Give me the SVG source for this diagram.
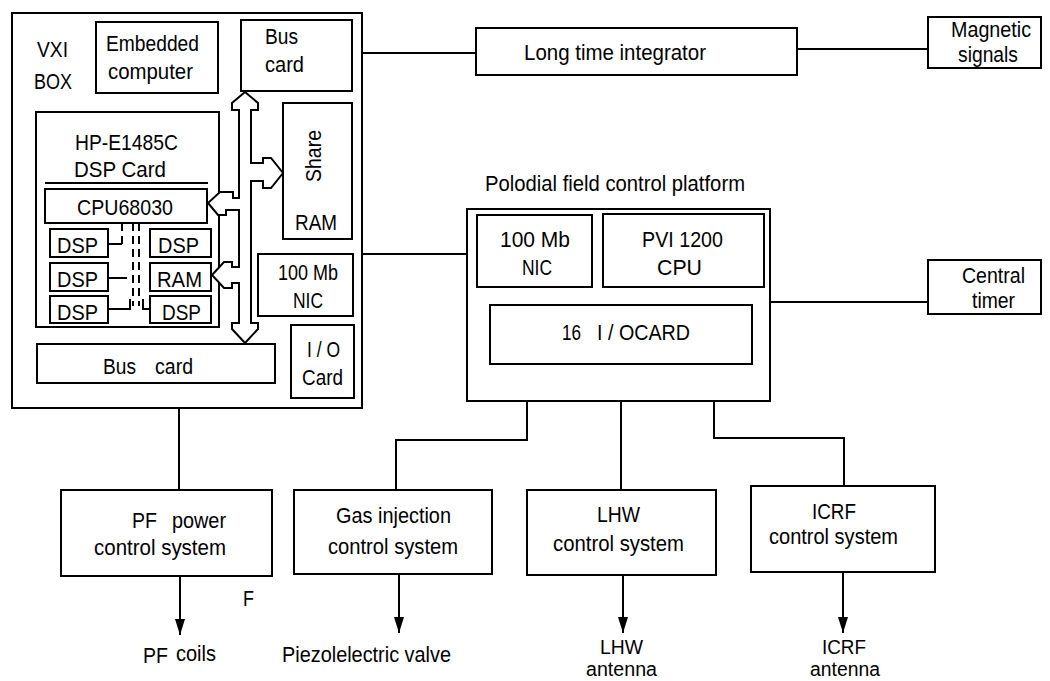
<svg xmlns="http://www.w3.org/2000/svg" width="1050" height="681" viewBox="0 0 1050 681">
<style>
.box{fill:none;stroke:#000;stroke-width:2}
.wbox{fill:#fff;stroke:#000;stroke-width:2}
.ln{fill:none;stroke:#000;stroke-width:2}
.dash{fill:none;stroke:#000;stroke-width:2;stroke-dasharray:8 5}
.t{font-family:"Liberation Sans",Arial,Helvetica,sans-serif;font-size:22px;fill:#000}
.s{font-family:"Liberation Sans",Arial,Helvetica,sans-serif;font-size:20px;fill:#000}
</style>
<defs>
<marker id="ah" viewBox="0 0 16 10" refX="16" refY="5" markerWidth="16" markerHeight="10" markerUnits="userSpaceOnUse" orient="auto">
<path d="M0,0 L16,5 L0,10 z" fill="#000"/>
</marker>
</defs>
<rect width="1050" height="681" fill="#fff"/>

<g id="connectors">
<path class="ln" d="M362,53 H476"/>
<path class="ln" d="M797,49 H928"/>
<path class="ln" d="M362,254 H467"/>
<path class="ln" d="M770,302 H928"/>
<path class="ln" d="M179,408 V490"/>
<path class="ln" d="M527,401 V440 H396 V490"/>
<path class="ln" d="M621,401 V490"/>
<path class="ln" d="M714,401 V438 H844 V486"/>
<path class="ln" d="M180,576 V635" marker-end="url(#ah)"/>
<path class="ln" d="M399,574 V633" marker-end="url(#ah)"/>
<path class="ln" d="M623,575 V633" marker-end="url(#ah)"/>
<path class="ln" d="M843,572 V633" marker-end="url(#ah)"/>
</g>

<g id="vxi-box">
<rect class="box" x="12" y="13" width="350" height="395"/>
<text class="t" x="37" y="57" textLength="31" lengthAdjust="spacingAndGlyphs">VXI</text>
<text class="t" x="34" y="89" textLength="38" lengthAdjust="spacingAndGlyphs">BOX</text>
</g>

<g id="embedded-computer">
<rect class="box" x="96" y="22" width="122" height="71"/>
<text class="t" x="106" y="51" textLength="93" lengthAdjust="spacingAndGlyphs">Embedded</text>
<text class="t" x="108" y="79" textLength="85" lengthAdjust="spacingAndGlyphs">computer</text>
</g>

<g id="bus-card-top">
<rect class="box" x="241" y="20" width="111" height="71"/>
<text class="t" x="265" y="44" textLength="33" lengthAdjust="spacingAndGlyphs">Bus</text>
<text class="t" x="265" y="72" textLength="39" lengthAdjust="spacingAndGlyphs">card</text>
</g>

<g id="share-ram">
<rect class="box" x="283" y="103" width="69" height="136"/>
<text class="t" transform="translate(321,156) rotate(-90)" x="0" y="0" text-anchor="middle" textLength="52" lengthAdjust="spacingAndGlyphs">Share</text>
<text class="t" x="295" y="230" textLength="42" lengthAdjust="spacingAndGlyphs">RAM</text>
</g>

<g id="dsp-card">
<rect class="box" x="36" y="112" width="183" height="215"/>
<text class="t" x="75" y="150" textLength="103" lengthAdjust="spacingAndGlyphs">HP-E1485C</text>
<text class="t" x="74" y="177" textLength="92" lengthAdjust="spacingAndGlyphs">DSP Card</text>
<path class="ln" d="M45,183 H208"/>
</g>

<g id="cpu68030">
<rect class="box" x="45" y="189" width="162" height="34"/>
<text class="t" x="77" y="215" textLength="96" lengthAdjust="spacingAndGlyphs">CPU68030</text>
</g>

<g id="dsp-1">
<rect class="box" x="50" y="229" width="58" height="28"/>
<text class="t" x="57" y="253" textLength="41" lengthAdjust="spacingAndGlyphs">DSP</text>
</g>
<g id="dsp-2">
<rect class="box" x="50" y="263" width="58" height="28"/>
<text class="t" x="57" y="287" textLength="41" lengthAdjust="spacingAndGlyphs">DSP</text>
</g>
<g id="dsp-3">
<rect class="box" x="50" y="296" width="58" height="27"/>
<text class="t" x="57" y="320" textLength="41" lengthAdjust="spacingAndGlyphs">DSP</text>
</g>
<g id="dsp-4">
<rect class="box" x="150" y="229" width="61" height="28"/>
<text class="t" x="158" y="253" textLength="41" lengthAdjust="spacingAndGlyphs">DSP</text>
</g>
<g id="dsp-ram">
<rect class="box" x="150" y="263" width="61" height="28"/>
<text class="t" x="157" y="287" textLength="45" lengthAdjust="spacingAndGlyphs">RAM</text>
</g>
<g id="dsp-5">
<rect class="box" x="150" y="296" width="61" height="27"/>
<text class="t" x="162" y="320" textLength="39" lengthAdjust="spacingAndGlyphs">DSP</text>
</g>

<g id="dsp-links">
<path class="ln" d="M108,244 H122"/>
<path class="dash" d="M122,223 V244"/>
<path class="ln" d="M108,278 H127"/>
<path class="ln" d="M108,309 H130 V299"/>
<path class="ln" d="M143,299 V309 H150"/>
<path class="dash" d="M133,223 V306"/>
<path class="dash" d="M139,223 V306"/>
</g>

<g id="vxi-bus">
<path class="wbox" stroke-linejoin="miter" d="M245,92 L258,103 L258,110 L251,110 L251,163 L263,163 L263,158 L271,158 L283,173 L271,188 L263,188 L263,181 L251,181 L251,323 L258,323 L258,329 L245,343 L232,329 L232,323 L239,323 L239,283 L232,283 L232,288 L224,288 L212,275 L224,262 L232,262 L232,267 L239,267 L239,210 L226,210 L226,215 L218,215 L208,203 L220,192 L233,192 L233,198 L239,198 L239,110 L232,110 L232,103 Z"/>
</g>

<g id="nic-vxi">
<rect class="box" x="258" y="254" width="95" height="62"/>
<text class="t" x="278" y="280" textLength="60" lengthAdjust="spacingAndGlyphs">100 Mb</text>
<text class="t" x="293" y="308" textLength="30" lengthAdjust="spacingAndGlyphs">NIC</text>
</g>

<g id="io-card">
<rect class="box" x="291" y="325" width="63" height="73"/>
<text class="t" x="307" y="357" textLength="33" lengthAdjust="spacingAndGlyphs">I / O</text>
<text class="t" x="302" y="385" textLength="41" lengthAdjust="spacingAndGlyphs">Card</text>
</g>

<g id="bus-card-bottom">
<rect class="box" x="37" y="344" width="238" height="39"/>
<text class="t" x="103" y="374" textLength="33" lengthAdjust="spacingAndGlyphs">Bus</text>
<text class="t" x="155" y="374" textLength="38" lengthAdjust="spacingAndGlyphs">card</text>
</g>

<g id="long-time-integrator">
<rect class="box" x="476" y="28" width="321" height="47"/>
<text class="t" x="524" y="60" textLength="182" lengthAdjust="spacingAndGlyphs">Long  time integrator</text>
</g>

<g id="magnetic-signals">
<rect class="box" x="928" y="17" width="113" height="51"/>
<text class="t" x="951" y="37" textLength="80" lengthAdjust="spacingAndGlyphs">Magnetic</text>
<text class="t" x="958" y="62" textLength="60" lengthAdjust="spacingAndGlyphs">signals</text>
</g>

<g id="platform">
<text class="t" x="485" y="191" textLength="260" lengthAdjust="spacingAndGlyphs">Polodial field control platform</text>
<rect class="box" x="467" y="209" width="303" height="192"/>
</g>

<g id="nic-platform">
<rect class="box" x="477" y="215" width="115" height="72"/>
<text class="t" x="500" y="247" textLength="70" lengthAdjust="spacingAndGlyphs">100 Mb</text>
<text class="t" x="522" y="275" textLength="30" lengthAdjust="spacingAndGlyphs">NIC</text>
</g>

<g id="pvi-cpu">
<rect class="box" x="603" y="214" width="161" height="73"/>
<text class="t" x="642" y="247" textLength="81" lengthAdjust="spacingAndGlyphs">PVI 1200</text>
<text class="t" x="657" y="275" textLength="45" lengthAdjust="spacingAndGlyphs">CPU</text>
</g>

<g id="io-card-16">
<rect class="box" x="490" y="305" width="262" height="59"/>
<text class="t" x="562" y="340" textLength="19" lengthAdjust="spacingAndGlyphs">16</text>
<text class="t" x="597" y="340" textLength="93" lengthAdjust="spacingAndGlyphs">I / OCARD</text>
</g>

<g id="central-timer">
<rect class="box" x="928" y="260" width="113" height="54"/>
<text class="t" x="962" y="283" textLength="63" lengthAdjust="spacingAndGlyphs">Central</text>
<text class="t" x="972" y="308" textLength="43" lengthAdjust="spacingAndGlyphs">timer</text>
</g>

<g id="pf-power">
<rect class="box" x="61" y="490" width="211" height="86"/>
<text class="t" x="132" y="528" textLength="25" lengthAdjust="spacingAndGlyphs">PF</text>
<text class="t" x="172" y="528" textLength="54" lengthAdjust="spacingAndGlyphs">power</text>
<text class="t" x="94" y="555" textLength="132" lengthAdjust="spacingAndGlyphs">control system</text>
</g>

<g id="gas-injection">
<rect class="box" x="294" y="490" width="198" height="84"/>
<text class="t" x="336" y="523" textLength="115" lengthAdjust="spacingAndGlyphs">Gas injection</text>
<text class="t" x="328" y="554" textLength="130" lengthAdjust="spacingAndGlyphs">control system</text>
</g>

<g id="lhw">
<rect class="box" x="527" y="490" width="189" height="85"/>
<text class="t" x="597" y="522" textLength="43" lengthAdjust="spacingAndGlyphs">LHW</text>
<text class="t" x="553" y="551" textLength="131" lengthAdjust="spacingAndGlyphs">control system</text>
</g>

<g id="icrf">
<rect class="box" x="751" y="486" width="184" height="86"/>
<text class="t" x="812" y="519" textLength="44" lengthAdjust="spacingAndGlyphs">ICRF</text>
<text class="t" x="769" y="544" textLength="129" lengthAdjust="spacingAndGlyphs">control system</text>
</g>

<g id="labels">
<text class="t" x="243" y="606" textLength="11" lengthAdjust="spacingAndGlyphs">F</text>
<text class="t" x="143" y="663" textLength="25" lengthAdjust="spacingAndGlyphs">PF</text>
<text class="t" x="176" y="661" textLength="40" lengthAdjust="spacingAndGlyphs">coils</text>
<text class="t" x="282" y="662" textLength="169" lengthAdjust="spacingAndGlyphs">Piezolelectric valve</text>
<text class="s" x="600" y="654" textLength="43" lengthAdjust="spacingAndGlyphs">LHW</text>
<text class="s" x="586" y="676" textLength="71" lengthAdjust="spacingAndGlyphs">antenna</text>
<text class="s" x="822" y="654" textLength="44" lengthAdjust="spacingAndGlyphs">ICRF</text>
<text class="s" x="810" y="676" textLength="70" lengthAdjust="spacingAndGlyphs">antenna</text>
</g>
</svg>
